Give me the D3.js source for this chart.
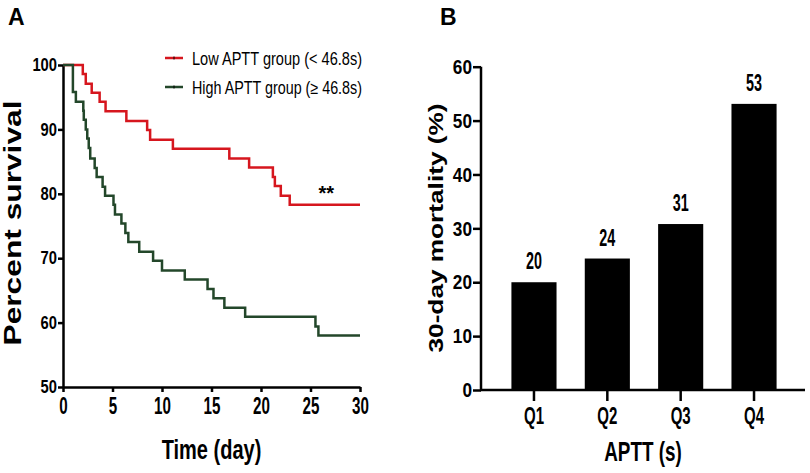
<!DOCTYPE html>
<meta charset="utf-8">
<style>
    body { margin: 0; background: #fff; }
    text { font-family: "Liberation Sans", Arial, sans-serif; font-weight: bold; fill: #000; }
    .axis path, .axis line { stroke: #000; stroke-width: 2.5px; }
</style>
<svg id="mainSVG" width="810" height="473"></svg>
<script src="https://d3js.org/d3.v7.min.js"></script>
<script>
    // Panel A: Kaplan-Meier steps (day, percent survival)
    var lowDays = [0, 2.0, 2.3, 2.9, 3.7, 4.3, 6.4, 8.5, 8.8, 11.1, 16.8, 18.8, 21.2, 21.4, 22.0, 22.9];
    var lowSurv = [100, 98.6, 97.1, 95.7, 94.3, 92.8, 91.3, 89.9, 88.4, 87.0, 85.5, 84.1, 82.6, 81.2, 79.7, 78.3];
    var highDays = [0, 1.0, 1.3, 2.05, 2.1, 2.3, 2.45, 2.6, 2.75, 3.2, 3.4, 4.0, 4.25, 5.1, 5.25, 5.9, 6.3, 6.6, 7.7, 9.1, 10.0, 12.3, 14.6, 15.2, 16.3, 18.4, 25.5, 25.8];
    var highSurv = [100, 95.8, 94.3, 92.9, 91.5, 90.0, 88.6, 87.1, 85.5, 84.0, 82.6, 81.1, 79.7, 78.3, 76.8, 75.4, 73.9, 72.5, 71.0, 69.6, 68.1, 66.7, 65.2, 63.8, 62.3, 60.9, 59.4, 58.0];
    var followUp = 30;
    var seriesNames = ["Low APTT group (< 46.8s)", "High APTT group (\u2265 46.8s)"];
    var seriesColors = ["#d6161e", "#23472a"];
    var aYTicks = [50, 60, 70, 80, 90, 100];
    var aXTicks = [0, 5, 10, 15, 20, 25, 30];

    // Panel B: 30-day mortality by APTT quartile
    var quartiles = ["Q1", "Q2", "Q3", "Q4"];
    var mortality = [20.0, 24.4, 30.8, 53.1];
    var mortalityLabels = ["20", "24", "31", "53"];
    var bYTicks = [0, 10, 20, 30, 40, 50, 60];

    var svg = d3.select("svg");
    var NARROW = 0.82; // fake a condensed face

    // squeeze/stretch text around its own anchor point
    function squeeze(sel, sx, sy) {
        sel.each(function () {
            var t = d3.select(this);
            var x = +t.attr("x") || 0, y = +t.attr("y") || 0;
            t.attr("x", x / sx).attr("y", y / sy)
                .attr("transform", "scale(" + sx + "," + sy + ")");
        });
    }

    // ---------- Panel A ----------
    var xA = d3.scaleLinear().domain([0, 30]).range([63, 360]);
    var yA = d3.scaleLinear().domain([50, 100]).range([387, 65]);

    var gAy = svg.append("g").attr("class", "axis")
        .attr("transform", "translate(63,0)")
        .call(d3.axisLeft(yA).tickValues(aYTicks).tickSize(5).tickSizeOuter(0).tickPadding(1));
    gAy.selectAll("text").style("font-size", "18px");
    squeeze(gAy.selectAll("text"), NARROW, 1.0);

    var gAx = svg.append("g").attr("class", "axis")
        .attr("transform", "translate(0,387)")
        .call(d3.axisBottom(xA).tickValues(aXTicks).tickSize(5).tickSizeOuter(0).tickPadding(5));
    gAx.selectAll("text").style("font-size", "18.5px");
    squeeze(gAx.selectAll("text"), NARROW, 1.28);

    var line = d3.line()
        .x(function (d) { return xA(d[0]); })
        .y(function (d) { return yA(d[1]); })
        .curve(d3.curveStepAfter);

    function kmPoints(days, surv) {
        var pts = days.map(function (d, i) { return [d, surv[i]]; });
        pts.push([followUp, surv[surv.length - 1]]);
        return pts;
    }

    var curves = [kmPoints(lowDays, lowSurv), kmPoints(highDays, highSurv)];
    svg.append("g").selectAll("path")
        .data(curves)
        .enter().append("path")
        .attr("d", line)
        .attr("fill", "none")
        .attr("stroke", function (d, i) { return seriesColors[i]; })
        .attr("stroke-width", 2.5);

    // legend
    var legend = svg.append("g").selectAll("g")
        .data(seriesNames)
        .enter().append("g")
        .attr("transform", function (d, i) { return "translate(165," + (58 + i * 29) + ")"; });
    legend.append("line")
        .attr("x1", 0).attr("x2", 18)
        .attr("stroke", function (d, i) { return seriesColors[i]; })
        .attr("stroke-width", 2.5);
    legend.append("line")
        .attr("x1", 9).attr("x2", 9).attr("y1", -1.5).attr("y2", 1.5)
        .attr("stroke", "#000").attr("stroke-width", 1);
    legend.append("text")
        .attr("x", 27).attr("y", 6.5)
        .style("font-size", "17.5px")
        .style("font-weight", "normal")
        .attr("textLength", 170)
        .attr("lengthAdjust", "spacingAndGlyphs")
        .text(function (d) { return d; });

    svg.append("text")
        .attr("x", xA(26.6)).attr("y", yA(78.3) - 5)
        .attr("text-anchor", "middle")
        .style("font-size", "20px")
        .text("**");

    svg.append("text")
        .attr("transform", "translate(21,223) rotate(-90)")
        .attr("text-anchor", "middle")
        .attr("textLength", 245)
        .attr("lengthAdjust", "spacingAndGlyphs")
        .style("font-size", "23px")
        .style("font-weight", 900)
        .text("Percent survival");

    var tA = svg.append("text")
        .attr("x", xA(15)).attr("y", 459)
        .attr("text-anchor", "middle")
        .style("font-size", "24.4px")
        .text("Time (day)");
    squeeze(tA, NARROW, 1.15);

    svg.append("text")
        .attr("x", 8).attr("y", 25)
        .style("font-size", "23px")
        .text("A");

    // ---------- Panel B ----------
    var xB = d3.scaleBand().domain(quartiles).range([497.3, 790.7])
        .paddingInner(0.385).paddingOuter(0.1925);
    var yB = d3.scaleLinear().domain([0, 60]).range([390, 66.7]);

    svg.append("g").selectAll("rect")
        .data(mortality)
        .enter().append("rect")
        .attr("x", function (d, i) { return xB(quartiles[i]); })
        .attr("width", xB.bandwidth())
        .attr("y", function (d) { return yB(d); })
        .attr("height", function (d) { return yB(0) - yB(d); })
        .attr("fill", "#000");

    var vl = svg.append("g").selectAll("text")
        .data(mortalityLabels)
        .enter().append("text")
        .attr("x", function (d, i) { return xB(quartiles[i]) + xB.bandwidth() / 2; })
        .attr("y", function (d, i) { return yB(mortality[i]) - 13; })
        .attr("text-anchor", "middle")
        .style("font-size", "17.5px")
        .text(function (d) { return d; });
    squeeze(vl, NARROW, 1.35);

    var gBy = svg.append("g").attr("class", "axis")
        .attr("transform", "translate(481,0)")
        .call(d3.axisLeft(yB).tickValues(bYTicks).tickSize(8).tickSizeOuter(0).tickPadding(1));
    gBy.select(".domain").attr("d", "M0,66.7V391");
    gBy.selectAll("text").style("font-size", "21px");
    squeeze(gBy.selectAll("text"), NARROW, 1.0);

    var gBx = svg.append("g").attr("class", "axis")
        .attr("transform", "translate(0,390)")
        .call(d3.axisBottom(xB).tickSize(11).tickSizeOuter(0).tickPadding(6));
    gBx.select(".domain").attr("d", "M480,0H805");
    gBx.selectAll("text").style("font-size", "18.3px");
    squeeze(gBx.selectAll("text"), NARROW, 1.3);

    svg.append("text")
        .attr("transform", "translate(443,228) rotate(-90)")
        .attr("text-anchor", "middle")
        .attr("textLength", 249)
        .attr("lengthAdjust", "spacingAndGlyphs")
        .style("font-size", "21px")
        .text("30-day mortality (%)");

    var tB = svg.append("text")
        .attr("x", 643).attr("y", 461)
        .attr("text-anchor", "middle")
        .style("font-size", "23px")
        .text("APTT (s)");
    squeeze(tB, NARROW, 1.2);

    svg.append("text")
        .attr("x", 440).attr("y", 25)
        .style("font-size", "23px")
        .text("B");
</script>
